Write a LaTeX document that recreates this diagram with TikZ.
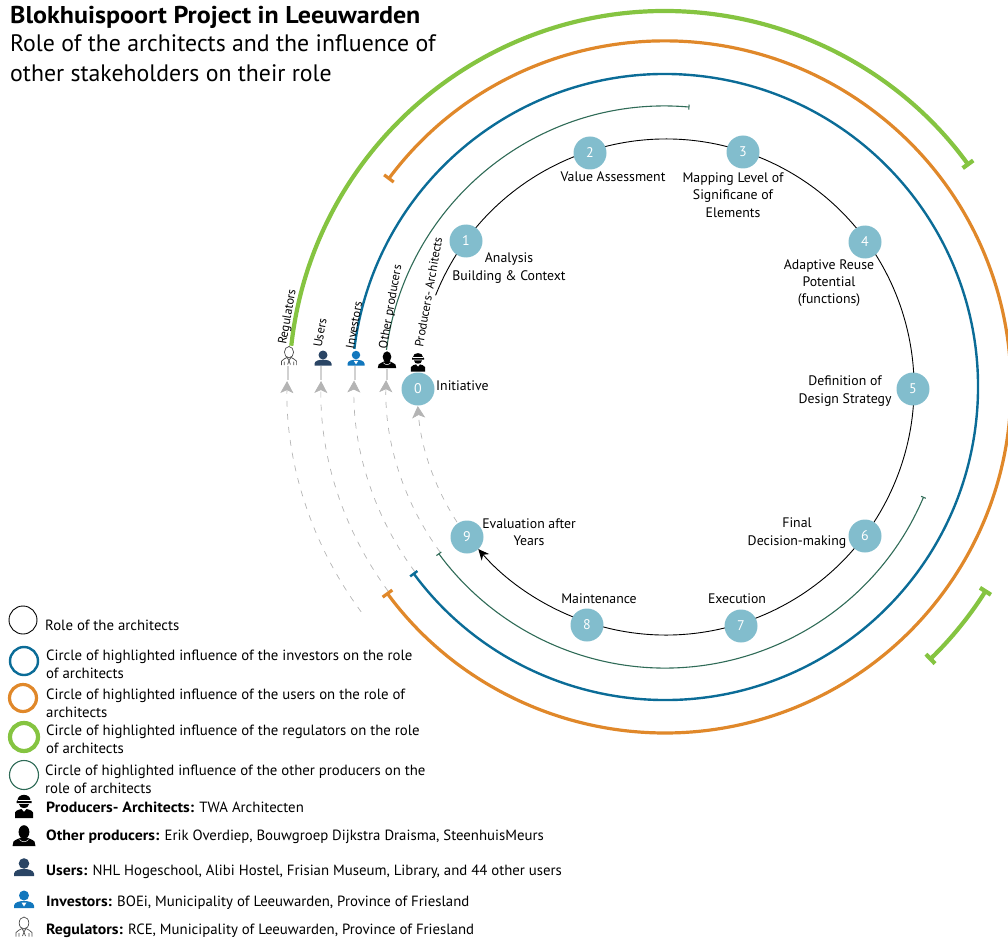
\documentclass[tikz,border=0pt]{standalone}
\usepackage{fontspec}
\setmainfont{PT Sans}[BoldFeatures={FakeStretch=1.07}]
\usetikzlibrary{arrows.meta,calc}
\definecolor{nodeblue}{HTML}{82BDCD}
\definecolor{cblue}{HTML}{0B6C97}
\definecolor{corange}{HTML}{E0882A}
\definecolor{cgreen}{HTML}{85C441}
\definecolor{cdark}{HTML}{2F6B57}
\definecolor{cuser}{HTML}{2A4565}
\definecolor{cinv}{HTML}{1277BD}
\definecolor{cgray}{HTML}{B4B4B4}
\tikzset{
  stepnode/.style={circle,fill=nodeblue,text=white,minimum size=33pt,inner sep=0pt,font=\fontsize{14}{14}\selectfont},
  steplabel/.style={align=center,inner sep=0pt,font=\fontsize{13.8}{17.3}\selectfont},
  rolelabel/.style={inner sep=0pt,rotate=80,font=\fontsize{12.3}{13}\selectfont},
  legendtext/.style={anchor=west,align=left,inner sep=0pt,font=\fontsize{14.8}{18}\selectfont},
  titletext/.style={anchor=west,align=left,inner sep=0pt},
  legendring/.style={draw,fill=none,circle,inner sep=0pt},
  dashedpath/.style={cgray,dashed,dash pattern=on 6pt off 7pt,line width=.7pt,-{Stealth[length=12pt,width=13pt,inset=3pt,fill=cgray]}},
  stub/.style={draw=black!18,line width=1.2pt},
  personicon/.pic={
    \fill[pic actions] (0,-3.5) circle (5.3);
    \fill[pic actions] (-10,9) -- (-10,6.5) .. controls (-9.5,3) and (-4,2) .. (0,2) .. controls (4,2) and (9.5,3) .. (10,6.5) -- (10,9) -- cycle;
  },
  investoricon/.pic={
    \fill[cinv] (0,-3.5) circle (5);
    \fill[cinv] (-10,9) -- (-10,6.5) .. controls (-9.5,3) and (-4,2) .. (0,2) .. controls (4,2) and (9.5,3) .. (10,6.5) -- (10,9) -- cycle;
    \fill[white] (-2.5,3.5) -- (2.5,3.5) -- (0,7.5) -- cycle;
  },
  producericon/.pic={
    \fill[black] (0,-4) ellipse (5.4 and 6.8);
    \fill[black] (-11.5,10) -- (-10.5,5.5) .. controls (-8,3) and (-4,2.5) .. (-3,1.5) -- (3,1.5) .. controls (4,2.5) and (8,3) .. (10.5,5.5) -- (11.5,10) -- cycle;
    \draw[white,line width=.5pt] (-4.5,3.5) .. controls (-2,6.5) and (2,6.5) .. (4.5,3.5);
  },
  architecticon/.pic={
    \fill[black] (-6.5,-5.5) .. controls (-6.5,-13) and (6.5,-13) .. (6.5,-5.5) -- (7.5,-4.8) -- (7.5,-3) -- (-7.5,-3) -- (-7.5,-4.8) -- cycle;
    \fill[black] (-5,-2) -- (5,-2) .. controls (5,3.5) and (-5,3.5) .. (-5,-2);
    \fill[black] (-9,12) -- (-9,6.5) .. controls (-8,4) and (-4,3.5) .. (-2.5,3) -- (0,6) -- (2.5,3) .. controls (4,3.5) and (8,4) .. (9,6.5) -- (9,12) -- cycle;
    \draw[white,line width=.5pt] (-6.5,-6.2) -- (6.5,-6.2);
  },
  regulatoricon/.pic={
    \draw[black!70,line width=.7pt,fill=white] (0,-4) ellipse (4.8 and 6);
    \draw[black!70,line width=.7pt] (-8,9.5) -- (-8,5.5) .. controls (-6.5,3) and (-3,2.5) .. (-2,1.5) -- (0,5) -- (2,1.5) .. controls (3,2.5) and (6.5,3) .. (8,5.5) -- (8,9.5);
    \draw[black!70,line width=.7pt] (0,5) -- (-1.5,9) (0,5) -- (1.5,9) (-5,9.5) -- (-5,6) (5,9.5) -- (5,6);
  }
}
\begin{document}
\begin{tikzpicture}[x=1pt,y=-1pt]
\clip (0,0) rectangle (1008,941);
\coordinate (c) at (665,387);
\coordinate (cb) at (666,387);
% end points of the arcs
\coordinate (bkS) at ($(cb)+(201.7:248)$);
\coordinate (dgA) at ($(c)+(187.6:281)$);
\coordinate (dgB) at ($(c)+(23:281)$);
\coordinate (blS) at ($(c)+(187:313)$);
\coordinate (orS) at ($(c)+(216.8:346)$);
\coordinate (grS) at ($(c)+(186.3:376)$);
\coordinate (grB) at ($(c)+(32.2:380)$);
\coordinate (d1) at ($(c)+(143.5:378)$);
\coordinate (d2) at ($(c)+(143.6:344)$);
\coordinate (d3) at ($(c)+(143.6:311)$);
\coordinate (d4) at ($(c)+(143.7:279)$);
\coordinate (d5) at ($(c)+(147:248)$);
% dashed return paths
\draw[dashedpath] (d1) arc[start angle=143.5,end angle=180.9,radius=378];
\draw[dashedpath] (d2) arc[start angle=143.6,end angle=181,radius=344];
\draw[dashedpath] (d3) arc[start angle=143.6,end angle=181.2,radius=311];
\draw[dashedpath] (d4) arc[start angle=143.7,end angle=181.4,radius=279];
\draw[dashedpath] (d5) arc[start angle=147,end angle=175.6,radius=248];
% influence circles
\draw[cdark,line width=1.1pt,-{Bar[width=5pt,length=1pt]}] (dgA) arc[start angle=187.6,end angle=275,radius=281];
\draw[cdark,line width=1.1pt,{Bar[width=5pt,length=1pt]}-{Bar[width=6pt,length=1pt]}] (dgB) arc[start angle=23,end angle=143.7,radius=281];
\draw[cblue,line width=2.4pt,-{Bar[width=9pt,length=1pt]}] (blS) arc[start angle=187,end angle=503.6,radius=313];
\draw[corange,line width=3.2pt,{Bar[width=12pt,length=1.2pt]}-{Bar[width=12pt,length=1.2pt]}] (orS) arc[start angle=216.8,end angle=503.6,radius=346];
\draw[cgreen,line width=4.2pt,-{Bar[width=13pt,length=1.2pt]}] (grS) arc[start angle=186.3,end angle=324,radius=376];
\draw[cgreen,line width=4.2pt,{Bar[width=13pt,length=1.2pt]}-{Bar[width=13pt,length=1.2pt]}] (grB) arc[start angle=32.2,end angle=46,radius=380];
% role of the architects
\draw[black,line width=.9pt,-{Stealth[length=11pt,width=10pt]}] (bkS) arc[start angle=201.7,end angle=499.2,radius=248];
% steps
\node[stepnode] (s0) at (418,389) {0};
\node[stepnode] (s1) at (466,241) {1};
\node[stepnode] (s2) at (590,153) {2};
\node[stepnode] (s3) at (743,152) {3};
\node[stepnode] (s4) at (865,242) {4};
\node[stepnode] (s5) at (913,389) {5};
\node[stepnode] (s6) at (865,536) {6};
\node[stepnode] (s7) at (741,626) {7};
\node[stepnode] (s8) at (587,625) {8};
\node[stepnode] (s9) at (467,537) {9};
% step labels
\node[steplabel,anchor=west] (l0) at (436,386) {Initiative};
\node[steplabel] (l1) at (509,268) {Analysis\\Building \& Context};
\node[steplabel] (l2) at (613,177) {Value Assessment};
\node[steplabel] (l3) at (733,195) {Mapping Level of\\Significane of\\Elements};
\node[steplabel] (l4) at (829,283) {Adaptive Reuse\\Potential\\(functions)};
\node[steplabel] (l5) at (845,391) {Definition of\\Design Strategy};
\node[steplabel] (l6) at (797,533) {Final\\Decision-making};
\node[steplabel] (l7) at (737,599) {Execution};
\node[steplabel] (l8) at (599,599) {Maintenance};
\node[steplabel] (l9) at (529,532) {Evaluation after\\Years};
% rotated names
\node[rolelabel] (r1) at (288,317) {Regulators};
\node[rolelabel] (r2) at (320,333) {Users};
\node[rolelabel] (r3) at (354,325) {Investors};
\node[rolelabel] (r4) at (391,307) {Other producers};
\node[rolelabel] (r5) at (428.5,292) {Producers- Architects};
% stubs under the icons
\coordinate (t1) at (288,366); \coordinate (t1b) at (288,380);
\coordinate (t2) at (321,366); \coordinate (t2b) at (321,380);
\coordinate (t3) at (355,366); \coordinate (t3b) at (355,380);
\coordinate (t4) at (387,369); \coordinate (t4b) at (387,380);
\draw[stub] (t1) -- (t1b);
\draw[stub] (t2) -- (t2b);
\draw[stub] (t3) -- (t3b);
\draw[stub] (t4) -- (t4b);
% icons on the diagram
\pic[scale=.95] at (289,356) {regulatoricon};
\pic[scale=.85,cuser] at (323,358) {personicon};
\pic[scale=.85] at (356,358) {investoricon};
\pic[scale=.8] at (387,360) {producericon};
\pic[scale=.8] at (418,362) {architecticon};
% title
\node[titletext,font=\fontsize{24.3}{28}\selectfont\bfseries] (t0) at (10,17) {Blokhuispoort Project in Leeuwarden};
\node[titletext,font=\fontsize{23.8}{30}\selectfont] (t00) at (10,58) {Role of the architects and the influence of\\other stakeholders on their role};
% legend
\node[legendring,draw=black,line width=.9pt,minimum size=28pt] (k0) at (23,620) {};
\node[legendring,draw=cblue,line width=2.4pt,minimum size=28pt] (k1) at (24,661) {};
\node[legendring,draw=corange,line width=3.2pt,minimum size=27pt] (k2) at (23,698) {};
\node[legendring,draw=cgreen,line width=4.2pt,minimum size=28pt] (k3) at (24,737) {};
\node[legendring,draw=cdark,line width=1.1pt,minimum size=29pt] (k4) at (24,775) {};
\node[legendtext] (x0) at (45,625) {Role of the architects};
\node[legendtext] (x1) at (46,664) {Circle of highlighted influence of the investors on the role\\of architects};
\node[legendtext] (x2) at (46,703) {Circle of highlighted influence of the users on the role of\\architects};
\node[legendtext] (x3) at (46,739) {Circle of highlighted influence of the regulators on the role\\of architects};
\node[legendtext] (x4) at (45,779) {Circle of highlighted influence of the other producers on the\\role of architects};
\node[legendtext] (x5) at (46,807) {\textbf{Producers- Architects:} TWA Architecten};
\node[legendtext] (x6) at (46,837) {\textbf{Other producers:} Erik Overdiep, Bouwgroep Dijkstra Draisma, SteenhuisMeurs};
\node[legendtext] (x7) at (46,872) {\textbf{Users:} NHL Hogeschool, Alibi Hostel, Frisian Museum, Library, and 44 other users};
\node[legendtext] (x8) at (46,903) {\textbf{Investors:} BOEi, Municipality of Leeuwarden, Province of Friesland};
\node[legendtext] (x9) at (46,931) {\textbf{Regulators:} RCE, Municipality of Leeuwarden, Province of Friesland};
\pic at (24,806) {architecticon};
\pic at (24,836) {producericon};
\pic[cuser] at (24,867) {personicon};
\pic at (24,899) {investoricon};
\pic at (24,927) {regulatoricon};
\end{tikzpicture}
\end{document}
